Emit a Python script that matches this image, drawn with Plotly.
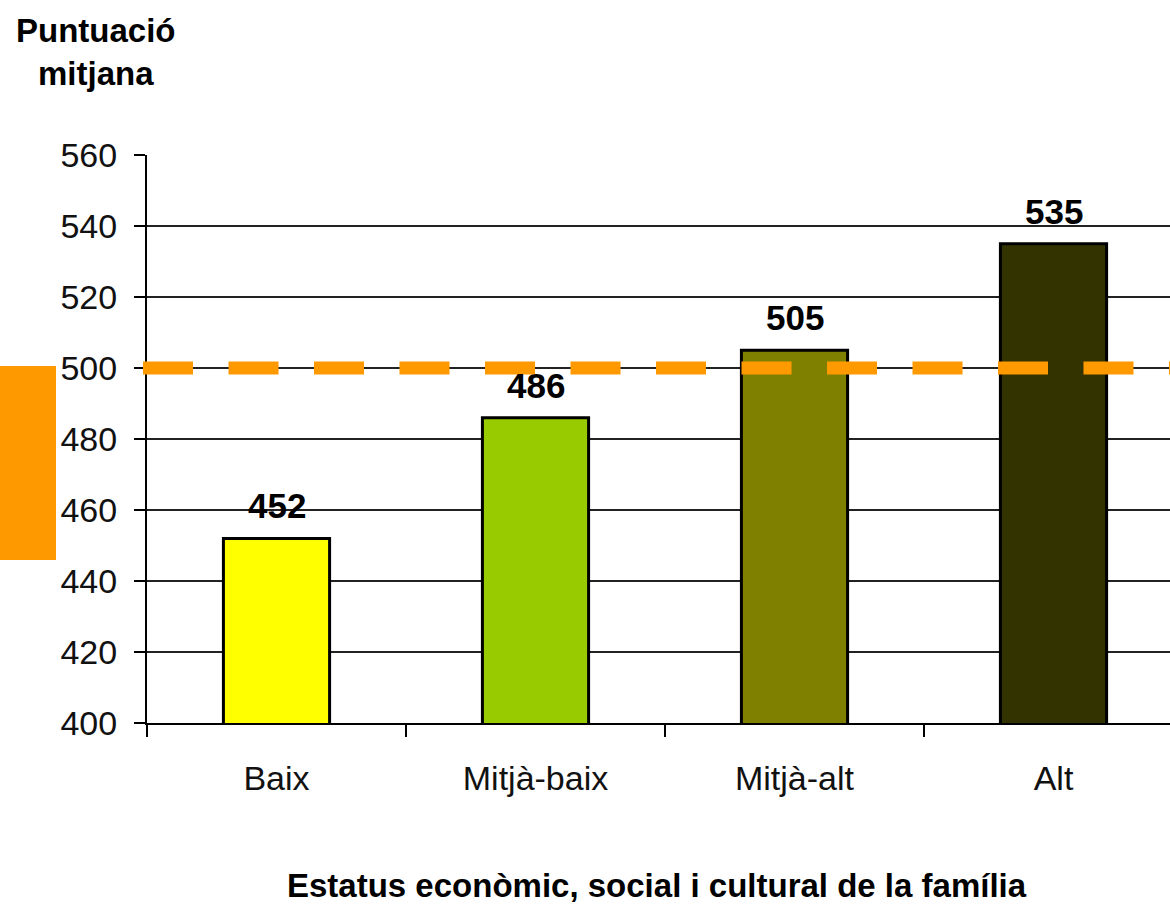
import plotly.graph_objects as go

categories = ["Baix", "Mitjà-baix", "Mitjà-alt", "Alt"]
scores = [452, 486, 505, 535]
bar_colors = ["#FFFF00", "#99CC00", "#808000", "#333300"]
reference_score = 500
y_ticks = [400, 420, 440, 460, 480, 500, 520, 540, 560]
y_title = "Puntuació<br>mitjana"
x_title = "Estatus econòmic, social i cultural de la família"

FONT = "Liberation Sans, Arial, sans-serif"

fig = go.Figure()
fig.add_trace(go.Bar(
    x=categories, y=scores,
    marker=dict(color=bar_colors, line=dict(color="black", width=3)),
    width=0.41, showlegend=False, hoverinfo="x+y",
))

for c, v in zip(categories, scores):
    fig.add_annotation(x=c, y=v, text=f"<b>{v}</b>", showarrow=False,
                       yanchor="bottom", yshift=11,
                       font=dict(family=FONT, size=35, color="black"))

L, T, B = 147, 155, 181
W, H = 1170, 904
pw = W - L
ph = H - T - B

# reference dashed line
fig.add_shape(type="line", xref="paper", yref="y",
              x0=(143 - L) / pw, x1=1, y0=reference_score, y1=reference_score,
              line=dict(color="#FF9900", width=13, dash="50px,35.5px"))

# partially visible legend key at the left edge
fig.add_shape(type="rect", xref="paper", yref="paper",
              x0=(0 - L) / pw, x1=(56 - L) / pw,
              y0=(723 - 560) / ph, y1=(723 - 366) / ph,
              fillcolor="#FF9900", line=dict(width=0), layer="above")

fig.add_annotation(xref="paper", yref="paper",
                   x=(96 - L) / pw, y=(723 - 10) / ph,
                   text=f"<b>{y_title}</b>", showarrow=False,
                   xanchor="center", yanchor="top", align="center",
                   font=dict(family=FONT, size=33, color="black"))
fig.add_annotation(xref="paper", yref="paper",
                   x=(657 - L) / pw, y=(723 - 885) / ph,
                   text=f"<b>{x_title}</b>", showarrow=False,
                   xanchor="center", yanchor="middle",
                   font=dict(family=FONT, size=33, color="black"))

fig.update_layout(
    width=W, height=H,
    margin=dict(l=L, r=0, t=T, b=B, pad=0),
    plot_bgcolor="white", paper_bgcolor="white",
    font=dict(family=FONT, size=34, color="black"),
    xaxis=dict(
        type="category", range=[-0.5, -0.5 + pw / 259.0],
        showline=True, linecolor="black", linewidth=2,
        ticks="outside", ticklen=12, tickwidth=2, tickcolor="black",
        tickson="boundaries", showgrid=False,
        tickfont=dict(family=FONT, size=34, color="#111"),
        ticklabelstandoff=24,
    ),
    yaxis=dict(
        range=[400, 560], tickvals=y_ticks,
        showline=True, linecolor="black", linewidth=2,
        ticks="outside", ticklen=11, tickwidth=2, tickcolor="black",
        showgrid=True, gridcolor="#222", gridwidth=2,
        tickfont=dict(family=FONT, size=34, color="#111"),
        ticklabelstandoff=10, zeroline=False,
    ),
)

fig.write_html("out.html", config={"displayModeBar": False},
               post_script="document.body.style.margin='0';document.body.style.overflow='hidden';")
